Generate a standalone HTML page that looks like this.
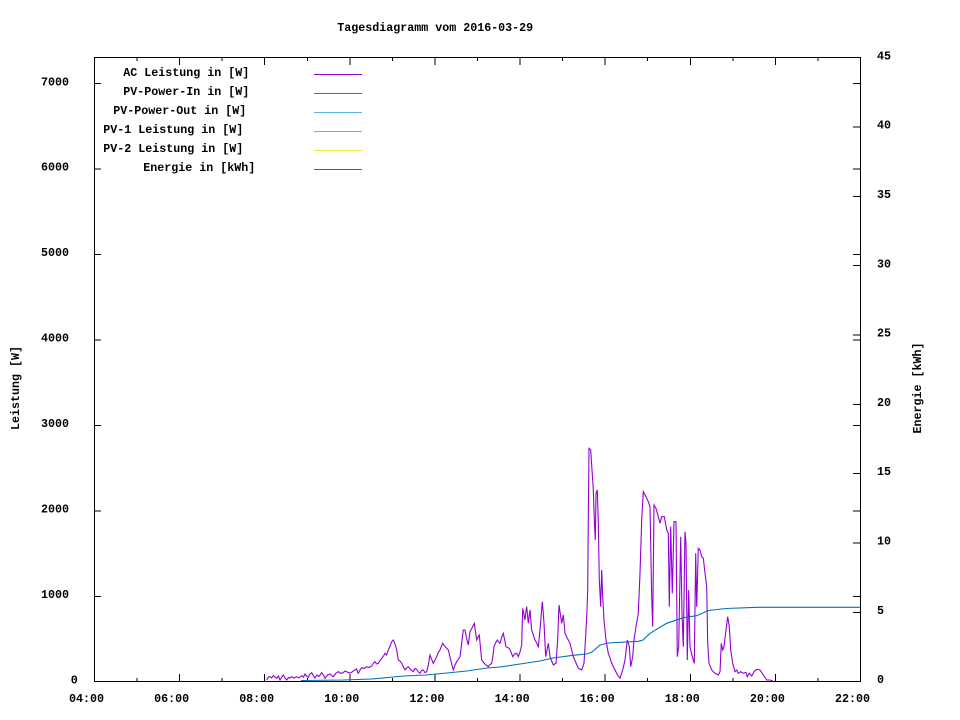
<!DOCTYPE html>
<html>
<head>
<meta charset="utf-8">
<style>
html,body{margin:0;padding:0;background:#fff;}
svg{display:block;}
text{font-family:"Liberation Mono","DejaVu Sans Mono",monospace;font-size:11.67px;font-weight:bold;fill:#000;}
</style>
</head>
<body>
<svg width="960" height="720" viewBox="0 0 960 720" xmlns="http://www.w3.org/2000/svg">
<rect x="0" y="0" width="960" height="720" fill="#fff"/>

<!-- title -->
<text x="337.3" y="31">Tagesdiagramm vom 2016-03-29</text>

<!-- plot border -->
<g shape-rendering="crispEdges" stroke="#000" stroke-width="1" fill="none">
<rect x="94.5" y="57.5" width="766" height="624"/>
<!-- left y ticks + mirrored right -->
<path d="M94 596.5h7M94 511h7M94 425.5h7M94 340h7M94 254.5h7M94 169h7M94 83.5h7
M860 596.5h-7M860 511h-7M860 425.5h-7M860 340h-7M860 254.5h-7M860 169h-7M860 83.5h-7"/>
<!-- y2 ticks -->
<path d="M860 612.5h-7M860 543h-7M860 473.5h-7M860 404.5h-7M860 335h-7M860 265.5h-7M860 196.5h-7M860 127h-7"/>
<!-- x ticks bottom: major (even hours) and minor (odd) -->
<path d="M179.6 681v-7M264.7 681v-7M349.8 681v-7M435 681v-7M520.1 681v-7M605.2 681v-7M690.3 681v-7M775.4 681v-7
M137 681v-3M222.2 681v-3M307.3 681v-3M392.4 681v-3M477.5 681v-3M562.6 681v-3M647.7 681v-3M732.9 681v-3M818 681v-3
M179.6 58v7M264.7 58v7M349.8 58v7M435 58v7M520.1 58v7M605.2 58v7M690.3 58v7M775.4 58v7
M137 58v3M222.2 58v3M307.3 58v3M392.4 58v3M477.5 58v3M562.6 58v3M647.7 58v3M732.9 58v3M818 58v3"/>
</g>

<!-- left y labels -->
<text x="70.7" y="683.5">0</text>
<text x="41" y="598">1000</text>
<text x="41" y="512.5">2000</text>
<text x="41" y="427">3000</text>
<text x="41" y="341.5">4000</text>
<text x="41" y="256">5000</text>
<text x="41" y="170.5">6000</text>
<text x="41" y="85.3">7000</text>

<!-- right y2 labels -->
<text x="877" y="683">0</text>
<text x="877" y="614">5</text>
<text x="877" y="544.5">10</text>
<text x="877" y="475.2">15</text>
<text x="877" y="406">20</text>
<text x="877" y="336.6">25</text>
<text x="877" y="267.3">30</text>
<text x="877" y="198">35</text>
<text x="877" y="128.7">40</text>
<text x="877" y="59.4">45</text>

<!-- x labels -->
<text x="69" y="702">04:00</text>
<text x="154.1" y="702">06:00</text>
<text x="239.2" y="702">08:00</text>
<text x="324.3" y="702">10:00</text>
<text x="409.4" y="702">12:00</text>
<text x="494.6" y="702">14:00</text>
<text x="579.7" y="702">16:00</text>
<text x="664.8" y="702">18:00</text>
<text x="749.9" y="702">20:00</text>
<text x="835" y="702">22:00</text>

<!-- axis labels -->
<text transform="translate(19,388) rotate(-90)" text-anchor="middle">Leistung [W]</text>
<text transform="translate(921,388) rotate(-90)" text-anchor="middle">Energie [kWh]</text>

<!-- legend -->
<text x="123.3" y="76">AC Leistung in [W]</text>
<text x="123.3" y="95">PV-Power-In in [W]</text>
<text x="113.3" y="114">PV-Power-Out in [W]</text>
<text x="103.3" y="133">PV-1 Leistung in [W]</text>
<text x="103.3" y="152">PV-2 Leistung in [W]</text>
<text x="143.3" y="171">Energie in [kWh]</text>
<g shape-rendering="crispEdges" stroke-width="1">
<path d="M314 74.5h48" stroke="#9400d3"/>
<path d="M314 93.5h48" stroke="#009e73"/>
<path d="M314 112.5h48" stroke="#56b4e9"/>
<path d="M314 131.5h48" stroke="#e69f00"/>
<path d="M314 150.5h48" stroke="#f0e442"/>
<path d="M314 169.5h48" stroke="#0072b2"/>
</g>

<!-- AC Leistung series -->
<polyline fill="none" stroke="#9400d3" stroke-width="1.1" stroke-linejoin="miter" points="
266.7,680 268.5,677 270,676.7 271.5,678 273.3,675.7 275,677 276.7,678.3 278.5,676 280,680 281.7,677 283.3,675 285,678 286.7,680 288.5,677.5 290,678 291.7,676.7 294,678 296.7,676.7 299,678 301.7,675.7 303.5,677 305,674 306.5,676 308.3,677.3 310,674 311.7,672.7 313.5,676 315,678 317,675 319,676.5 321.7,672.7 323.5,675 325,678.3 327.5,675 330,674 331.5,675.5 333.3,676.7 336,673 338.3,671.7 341,673.5 343.3,672.7 345,671 346.7,671.7 349,673 351.7,672.3 354,670.5 356.7,669 357.5,672 358.3,673.3 360,670 361.7,667.7 364,668.5 366.7,666.7 369,667.5 371.7,666 373.5,663 375,661.7 376.5,664 378.3,663.3 380,660.5 381.7,658.3 383.5,656 385,653.3 386.5,655 388.3,650 390,646 391.7,641.7 393.3,640 395,644 396.7,650 398.3,660 400,661 401.7,663.3 403.5,667 405,670 406.5,668 408.3,666.7 411,670 413.3,671.7 415,668.5 416.7,669.3 418.5,672 420,673.3 421.5,670.5 423.3,670 425,672.5 426.7,671.7 428.5,664 430,655 431.5,659 433.3,663.3 435,660 436.7,656.7 438.5,652 440,650 441.5,646 442.7,643.3 444.5,646 446.7,648.3 448.3,650 450,656.7 451.7,664 453.3,670 455,665 456.7,661.7 458.5,659 460,656.7 461.5,645 463.3,630 465,630 466.5,638 468.3,645 470,631.7 472,628 474.3,623.3 475.5,632 476.7,640 478,637 479.3,635 480.5,648 481.7,660 484,663 486,665 488.3,666.7 490,664.5 491.7,663.3 493,655 494,646.7 495.5,643 497.3,640 498.7,642 500,643.3 501.5,638 503.3,633.3 504.7,640 506,646.7 507.5,647.5 509.3,648.3 511,652 512.7,656.7 514.5,654 516.7,653.3 518.3,656.7 520,652 521.7,645 522.7,608.3 523.8,614 525,620 525.8,612 526.7,606.7 527.5,615 528.3,623.3 529.2,616 530,610 530.8,620 531.7,630 533.3,635 535,640 536.7,643 538.3,646.7 539.2,638 540,630 541.2,615 542.3,601.7 543.2,612 544,623.3 544.8,640 545.7,656.7 547,650 548.3,643.3 549.2,650 550,656.7 551.7,661 553.3,665 554.7,664 556,663.3 556.8,652 557.7,640 558.3,622 559,605 560.3,614 561.7,623.3 562.5,619 563.3,615 564.2,624 565,633.3 566.7,637 568.3,640 570,643.3 571.7,650 573.3,656.7 575.8,662.5 578.3,668.3 581.7,670 584,663.3 585,647 586,630 587,610 587.7,590 588.3,520 589,448.3 590.7,450 592,470 593.3,490 594.3,520 595.3,540 596,493.3 597.3,490 598.3,523.3 599.3,580 600.7,606.7 601.7,570 602.7,596.7 604,620 606,640 608.3,653.3 610,658 611.7,663.3 614,668 616.7,673.3 618.3,676 620,678.3 621.3,674 622.7,670 625,660 627.3,640 629.3,646.7 630.7,666.7 632.7,656.7 634,640 636,626.7 638.3,613.3 640,573.3 641.7,520 643.3,491.7 646,496.7 648.3,501.7 650,506.7 651.7,596.7 652.7,626.7 654,505 656,508.3 658.3,516.7 660,523.3 661.7,516.7 664.3,516.7 666.7,530 668.3,533.3 669.3,606.7 670.7,526.7 672.3,593.3 674,521.7 676,521.7 677.3,656.7 678.7,646.7 680.7,536.7 682,613.3 683.3,646.7 685,531.7 686,543.3 687.3,660 688.7,590 690,646.7 692.3,656.7 694.3,663.3 695.7,553.3 696.7,606.7 698.3,548.3 700,550 701.7,556.7 703.3,558 705,573.3 706.7,586.7 707.7,643.3 709,663.3 711.7,670 715,673.3 718.3,675 720,671.7 721.3,643.3 722.7,650 724,646.7 726,630 727.7,616.7 729.3,626.7 730.7,650 732.7,663.3 735,671.7 736.7,670 738.3,673.3 740.7,671.7 743.3,673.3 746,672.3 747.3,676.7 749.3,673.3 751.7,676 754,671.7 756.7,669.3 760,670 763.3,675 766.7,680 770,680 772.7,681"/>

<!-- Energie series -->
<polyline fill="none" stroke="#0072b2" stroke-width="1.1" points="
301,680.5 343,680 372,679 393,677 404,676 426,675 447,673 467,671 487,668 500,667 520,664 540,661 553,658 573,655.3 586.7,654 592,652 600,645 608.3,643 638.3,641.3 643,640 650,633.3 666.7,623.3 683.3,617.7 696.7,615.7 708.3,610.5 726,608.5 757,607.3 860,607.3"/>
</svg>
</body>
</html>
